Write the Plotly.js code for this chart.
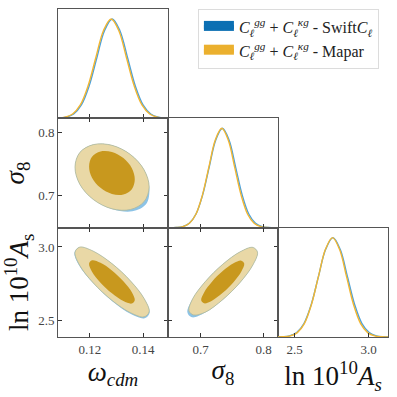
<!DOCTYPE html>
<html>
<head>
<meta charset="utf-8">
<script src="https://cdn.plot.ly/plotly-3.0.1.min.js"></script>
<style>
  html, body { margin: 0; padding: 0; background: #fff; }
  #corner { width: 397px; height: 397px; }
</style>
</head>
<body>
<div id="corner"></div>
<script>
// Marginal posteriors (relative height)
var pdfHeight = [0.0003, 0.0022, 0.011, 0.044, 0.135, 0.325, 0.607, 0.882, 1, 0.882, 0.607, 0.325, 0.135, 0.044, 0.011, 0.0022, 0.0003];

var omegaSwift = [0.1052, 0.1081, 0.1110, 0.1139, 0.1168, 0.1197, 0.1226, 0.1255, 0.1284, 0.1313, 0.1342, 0.1371, 0.1400, 0.1429, 0.1458, 0.1487, 0.1516];
var omegaMapar = [0.1048, 0.1077, 0.1106, 0.1135, 0.1164, 0.1193, 0.1222, 0.1251, 0.1280, 0.1309, 0.1338, 0.1367, 0.1396, 0.1425, 0.1454, 0.1483, 0.1512];

var sigma8Swift = [0.6505, 0.661, 0.6715, 0.682, 0.6925, 0.703, 0.7135, 0.724, 0.7345, 0.745, 0.7555, 0.766, 0.7765, 0.787, 0.7975, 0.808, 0.8185];
var sigma8Mapar = [0.6515, 0.66175, 0.672, 0.68225, 0.6925, 0.70275, 0.713, 0.72325, 0.7335, 0.74375, 0.754, 0.76425, 0.7745, 0.78475, 0.795, 0.80525, 0.8155];

var lnAsSwift = [2.367, 2.416, 2.465, 2.514, 2.563, 2.612, 2.661, 2.710, 2.759, 2.808, 2.857, 2.906, 2.955, 3.004, 3.053, 3.102, 3.151];
var lnAsMapar = [2.376, 2.4235, 2.471, 2.5185, 2.566, 2.6135, 2.661, 2.7085, 2.756, 2.8035, 2.851, 2.8985, 2.946, 2.9935, 3.041, 3.0885, 3.136];

// 2D contours, 68% (inner) and 95% (outer)
// omega_cdm vs sigma8
var os8OuterSwiftX = [0.1283, 0.1213, 0.1162, 0.1144, 0.1162, 0.1213, 0.1285, 0.1360, 0.1412, 0.1424, 0.1404, 0.1353];
var os8OuterSwiftY = [0.7796, 0.7807, 0.7681, 0.7449, 0.7175, 0.6932, 0.6778, 0.6745, 0.6860, 0.7120, 0.7405, 0.7648];
var os8OuterMaparX = [0.1283, 0.1213, 0.1162, 0.1144, 0.1162, 0.1213, 0.1283, 0.1353, 0.1404, 0.1423, 0.1404, 0.1353];
var os8OuterMaparY = [0.7796, 0.7807, 0.7681, 0.7449, 0.7175, 0.6932, 0.6784, 0.6773, 0.6899, 0.7131, 0.7405, 0.7648];
var os8InnerX = [0.1283, 0.1240, 0.1208, 0.1197, 0.1208, 0.1240, 0.1283, 0.1326, 0.1358, 0.1369, 0.1358, 0.1326];
var os8InnerY = [0.7689, 0.7697, 0.7613, 0.7460, 0.7279, 0.7118, 0.7021, 0.7013, 0.7097, 0.7250, 0.7431, 0.7592];

// omega_cdm vs ln(10^10 As)
var oAsOuterSwiftX = [0.1283, 0.1213, 0.1162, 0.1142, 0.1160, 0.1213, 0.1283, 0.1356, 0.1406, 0.1425, 0.1404, 0.1353];
var oAsOuterSwiftY = [2.887, 2.971, 2.999, 2.962, 2.872, 2.753, 2.633, 2.542, 2.515, 2.552, 2.650, 2.769];
var oAsOuterMaparX = [0.1283, 0.1213, 0.1162, 0.1144, 0.1162, 0.1213, 0.1283, 0.1353, 0.1404, 0.1423, 0.1404, 0.1353];
var oAsOuterMaparY = [2.887, 2.971, 2.999, 2.964, 2.874, 2.755, 2.637, 2.553, 2.525, 2.560, 2.650, 2.769];
var oAsInnerX = [0.1283, 0.1240, 0.1208, 0.1197, 0.1208, 0.1240, 0.1283, 0.1326, 0.1358, 0.1369, 0.1358, 0.1326];
var oAsInnerY = [2.840, 2.892, 2.909, 2.887, 2.832, 2.757, 2.685, 2.632, 2.615, 2.637, 2.693, 2.767];

// sigma8 vs ln(10^10 As)
var s8AsOuterSwiftX = [0.7350, 0.7075, 0.6870, 0.6790, 0.6862, 0.7075, 0.7350, 0.7626, 0.7827, 0.7901, 0.7827, 0.7626];
var s8AsOuterSwiftY = [2.882, 2.765, 2.645, 2.556, 2.522, 2.555, 2.642, 2.759, 2.877, 2.964, 2.997, 2.967];
var s8AsOuterMaparX = [0.7350, 0.7075, 0.6873, 0.6815, 0.6888, 0.7075, 0.7350, 0.7626, 0.7827, 0.7901, 0.7827, 0.7626];
var s8AsOuterMaparY = [2.882, 2.765, 2.647, 2.566, 2.538, 2.557, 2.642, 2.759, 2.877, 2.964, 2.997, 2.967];
var s8AsInnerX = [0.7350, 0.7180, 0.7055, 0.7009, 0.7055, 0.7180, 0.7350, 0.7521, 0.7645, 0.7691, 0.7645, 0.7521];
var s8AsInnerY = [2.836, 2.764, 2.691, 2.637, 2.617, 2.635, 2.688, 2.760, 2.833, 2.887, 2.907, 2.889];

var seriesNames = [
  "<i>C</i><sub><i>ℓ</i></sub><sup><i>gg</i></sup> + <i>C</i><sub><i>ℓ</i></sub><sup><i>κg</i></sup> - Swift<i>C</i><sub><i>ℓ</i></sub>",
  "<i>C</i><sub><i>ℓ</i></sub><sup><i>gg</i></sup> + <i>C</i><sub><i>ℓ</i></sub><sup><i>κg</i></sup> - Mapar"
];

var swiftLine = "#4aa0dc", maparLine = "#f2b632";
var swiftOuter = "#8cc3e6", swiftInner = "#1a78b8";
var maparOuter = "#e9d8a6", maparInner = "#c8981e";

function closed(arr) { return arr.concat([arr[0]]); }

function curve(x, y, color, xa, ya) {
  return { x: x, y: y, xaxis: xa, yaxis: ya, type: "scatter", mode: "lines",
    line: { color: color, width: 1.4, shape: "spline" }, showlegend: false, hoverinfo: "skip" };
}

function blob(x, y, fill, xa, ya, edge) {
  return { x: closed(x), y: closed(y), xaxis: xa, yaxis: ya, type: "scatter", mode: "lines",
    fill: "toself", fillcolor: fill,
    line: { color: edge || fill, width: edge ? 0.8 : 0, shape: "spline", smoothing: 1 },
    showlegend: false, hoverinfo: "skip" };
}

var data = [
  // marginals
  curve(omegaSwift, pdfHeight, swiftLine, "x", "y"),
  curve(omegaMapar, pdfHeight, maparLine, "x", "y"),
  curve(sigma8Swift, pdfHeight, swiftLine, "x3", "y3"),
  curve(sigma8Mapar, pdfHeight, maparLine, "x3", "y3"),
  curve(lnAsSwift, pdfHeight, swiftLine, "x6", "y6"),
  curve(lnAsMapar, pdfHeight, maparLine, "x6", "y6"),
  // omega - sigma8
  blob(os8OuterSwiftX, os8OuterSwiftY, swiftOuter, "x2", "y2"),
  blob(os8InnerX, os8InnerY, swiftInner, "x2", "y2"),
  blob(os8OuterMaparX, os8OuterMaparY, maparOuter, "x2", "y2", "#b0b99c"),
  blob(os8InnerX, os8InnerY, maparInner, "x2", "y2"),
  // omega - lnAs
  blob(oAsOuterSwiftX, oAsOuterSwiftY, swiftOuter, "x4", "y4"),
  blob(oAsInnerX, oAsInnerY, swiftInner, "x4", "y4"),
  blob(oAsOuterMaparX, oAsOuterMaparY, maparOuter, "x4", "y4", "#b0b99c"),
  blob(oAsInnerX, oAsInnerY, maparInner, "x4", "y4"),
  // sigma8 - lnAs
  blob(s8AsOuterSwiftX, s8AsOuterSwiftY, swiftOuter, "x5", "y5"),
  blob(s8AsInnerX, s8AsInnerY, swiftInner, "x5", "y5"),
  blob(s8AsOuterMaparX, s8AsOuterMaparY, maparOuter, "x5", "y5", "#b0b99c"),
  blob(s8AsInnerX, s8AsInnerY, maparInner, "x5", "y5"),
  // legend entries
  { x: [null], y: [null], type: "scatter", mode: "lines", fill: "toself", fillcolor: "#0b6fb3",
    line: { width: 8, color: "#0b6fb3" }, name: seriesNames[0], xaxis: "x", yaxis: "y" },
  { x: [null], y: [null], type: "scatter", mode: "lines", fill: "toself", fillcolor: "#ebb02e",
    line: { width: 8, color: "#ebb02e" }, name: seriesNames[1], xaxis: "x", yaxis: "y" }
];

var serif = "Liberation Serif, DejaVu Serif, serif";
var omegaRange = [0.108, 0.1494], s8Range = [0.6483, 0.8226], asRange = [2.388, 3.131];
var c1 = [0, 0.3333], c2 = [0.3333, 0.6667], c3 = [0.6667, 1];
var r1 = [0.6667, 1], r2 = [0.3333, 0.6667], r3 = [0, 0.3333];

function xax(domain, anchor, range, vals, labels, title, mirror) {
  return { domain: domain, anchor: anchor, range: range, tickvals: vals, showticklabels: labels,
    ticks: "inside", ticklen: 4, tickcolor: "#333", mirror: mirror ? "ticks" : true,
    showline: true, linecolor: "#555", linewidth: 1, showgrid: false, zeroline: false,
    tickfont: { family: serif, size: 13, color: "#444" },
    title: title ? { text: title, font: { family: serif, size: 27, color: "#111" }, standoff: 4 } : undefined };
}
function yax(domain, anchor, range, vals, labels, title, mirror) {
  var a = xax(domain, anchor, range, vals, labels, title, mirror);
  if (title) a.title.standoff = 6;
  return a;
}
function pdfAxis(domain, anchor) {
  return { domain: domain, anchor: anchor, range: [0, 1.1], showticklabels: false, ticks: "",
    showline: true, linecolor: "#555", linewidth: 1, mirror: true, showgrid: false, zeroline: false };
}

var layout = {
  width: 397, height: 397,
  margin: { l: 58, r: 9, t: 9, b: 60 },
  paper_bgcolor: "#fff", plot_bgcolor: "#fff",
  showlegend: true,
  legend: { x: 0.424, y: 1.0, xanchor: "left", yanchor: "top",
    bgcolor: "#fff", bordercolor: "#dcdcdc", borderwidth: 1,
    font: { family: serif, size: 16, color: "#222" }, tracegroupgap: 6 },
  xaxis: xax(c1, "y", omegaRange, [0.12, 0.14], false, null, false),
  yaxis: pdfAxis(r1, "x"),
  xaxis2: xax(c1, "y2", omegaRange, [0.12, 0.14], false, null, true),
  yaxis2: yax(r2, "x2", s8Range, [0.7, 0.8], true, "<i>σ</i><sub>8</sub>", true),
  xaxis3: xax(c2, "y3", s8Range, [0.7, 0.8], false, null, false),
  yaxis3: pdfAxis(r2, "x3"),
  xaxis4: xax(c1, "y4", omegaRange, [0.12, 0.14], true, "<i>ω</i><sub><i>cdm</i></sub>", true),
  yaxis4: yax(r3, "x4", asRange, [2.5, 3.0], true, "ln 10<sup>10</sup><i>A</i><sub>s</sub>", true),
  xaxis5: xax(c2, "y5", s8Range, [0.7, 0.8], true, "<i>σ</i><sub>8</sub>", true),
  yaxis5: yax(r3, "x5", asRange, [2.5, 3.0], false, null, true),
  xaxis6: xax(c3, "y6", asRange, [2.5, 3.0], true, "ln 10<sup>10</sup><i>A</i><sub><i>s</i></sub>", false),
  yaxis6: pdfAxis(r3, "x6")
};
layout.xaxis4.tickformat = ".2f";
layout.xaxis6.tickformat = ".1f";
layout.yaxis4.tickformat = ".1f";
layout.yaxis2.tickformat = ".1f";
layout.xaxis5.tickformat = ".1f";

Plotly.newPlot("corner", data, layout, { staticPlot: true });
</script>
</body>
</html>
